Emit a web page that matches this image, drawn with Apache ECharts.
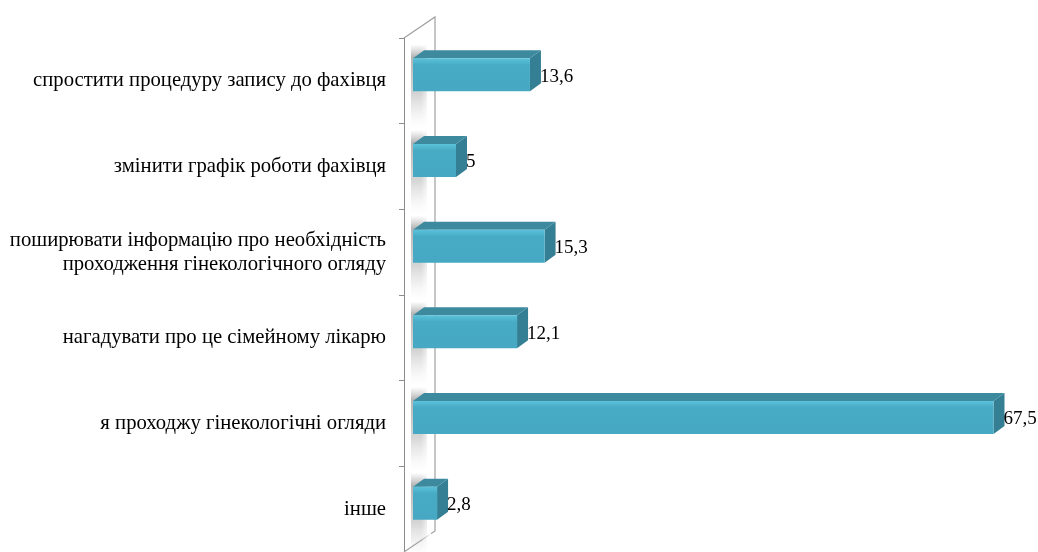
<!DOCTYPE html>
<html>
<head>
<meta charset="utf-8">
<script src="https://cdn.jsdelivr.net/npm/echarts@6/dist/echarts.min.js"></script>
<style>
  html, body { margin: 0; padding: 0; background: #ffffff; }
  #chart { width: 1038px; height: 552px; }
</style>
</head>
<body>
<div id="chart"></div>
<script>
// Survey answers (top to bottom) and their shares, %
const categories = [
  'спростити процедуру запису до фахівця',
  'змінити графік роботи фахівця',
  'поширювати інформацію про необхідність\nпроходження гінекологічного огляду',
  'нагадувати про це сімейному лікарю',
  'я проходжу гінекологічні огляди',
  'інше'
];
const values = [13.6, 5, 15.3, 12.1, 67.5, 2.8];
const valueLabels = ['13,6', '5', '15,3', '12,1', '67,5', '2,8'];

const FONT = '"Liberation Serif", "Times New Roman", serif';
const FLOOR = 9;                    // bars stand this far in front of the side wall
const DEPTH_X = 11, DEPTH_Y = -8;   // oblique depth of each bar
const FACE_H = 33;                  // front face height
const FACE_SHIFT = -6;              // front face centre relative to band centre

const chart = echarts.init(document.getElementById('chart'), null, { renderer: 'canvas' });

function renderBar(params, api) {
  const idx = api.value(0);
  const val = api.value(1);
  const start = api.coord([0, idx]);
  const end = api.coord([val, idx]);
  const x0 = start[0] + FLOOR, x1 = end[0] + FLOOR;
  const cy = start[1] + FACE_SHIFT;
  const top = cy - FACE_H / 2, bot = cy + FACE_H / 2;
  return {
    type: 'group',
    children: [
      // soft shadow cast on the side wall
      {
        type: 'rect',
        shape: { x: x0 - 2, y: top - 14, width: 16, height: FACE_H + 50 },
        style: {
          fill: new echarts.graphic.LinearGradient(0, 0, 0, 1, [
            { offset: 0, color: 'rgba(140,140,140,0)' },
            { offset: 0.15, color: 'rgba(120,120,120,0.55)' },
            { offset: 0.6, color: 'rgba(150,150,150,0.4)' },
            { offset: 1, color: 'rgba(200,200,200,0)' }
          ])
        },
        silent: true
      },
      {
        type: 'rect',
        shape: { x: x0 + 8, y: top - 14, width: 10, height: FACE_H + 50 },
        style: {
          fill: new echarts.graphic.LinearGradient(0, 0, 1, 0, [
            { offset: 0, color: 'rgba(255,255,255,0)' },
            { offset: 1, color: 'rgba(255,255,255,1)' }
          ])
        },
        silent: true
      },
      // right side face
      {
        type: 'polygon',
        shape: { points: [[x1, top], [x1 + DEPTH_X, top + DEPTH_Y], [x1 + DEPTH_X, bot + DEPTH_Y], [x1, bot]] },
        style: { fill: '#347f93' }
      },
      // top face
      {
        type: 'polygon',
        shape: { points: [[x0, top], [x0 + DEPTH_X, top + DEPTH_Y], [x1 + DEPTH_X, top + DEPTH_Y], [x1, top]] },
        style: { fill: '#3d8a9f' }
      },
      // front face
      {
        type: 'rect',
        shape: { x: x0, y: top, width: x1 - x0, height: FACE_H },
        style: {
          fill: new echarts.graphic.LinearGradient(0, 0, 0, 1, [
            { offset: 0, color: '#5cc2da' },
            { offset: 0.12, color: '#4fb4cd' },
            { offset: 0.2, color: '#48abc5' },
            { offset: 1, color: '#46a8c2' }
          ]),
          shadowBlur: 6, shadowOffsetY: 3, shadowColor: 'rgba(0,0,0,0.3)'
        }
      },
      // value label
      {
        type: 'text',
        z2: 10,
        style: {
          text: valueLabels[params.dataIndex],
          x: x1 + DEPTH_X - 1, y: cy + 2,
          align: 'left', verticalAlign: 'middle',
          font: '19px ' + FONT, fill: '#000000'
        }
      }
    ]
  };
}

const option = {
  animation: false,
  grid: { left: 404, right: 32, top: 38, bottom: -2, containLabel: false },
  xAxis: {
    type: 'value', min: 0, max: 70,
    show: false
  },
  yAxis: {
    type: 'category',
    inverse: true,
    data: categories,
    axisLine: { show: true, lineStyle: { color: '#8c8c8c', width: 1 } },
    axisTick: { show: true, length: 5, lineStyle: { color: '#8c8c8c' } },
    axisLabel: {
      margin: 18,
      fontFamily: FONT, fontSize: 20.7, color: '#000000',
      lineHeight: 24, align: 'right'
    }
  },
  series: [{
    type: 'custom',
    renderItem: renderBar,
    encode: { x: 1, y: 0 },
    data: values.map((v, i) => [i, v]),
    clip: false,
    z: 3
  }]
};
chart.setOption(option);

// Side wall of the plot box, derived from the axis positions
const xFront = chart.convertToPixel({ xAxisIndex: 0 }, 0);
const yFirst = chart.convertToPixel({ yAxisIndex: 0 }, 0);
const yLast = chart.convertToPixel({ yAxisIndex: 0 }, categories.length - 1);
const band = (yLast - yFirst) / (categories.length - 1);
const yTop = yFirst - band / 2, yBot = yLast + band / 2;
const WX = 31, WY = -21;
chart.setOption({
  graphic: [{
    type: 'polyline',
    z: 1,
    silent: true,
    shape: { points: [[xFront, yTop], [xFront + WX, yTop + WY], [xFront + WX, yBot + WY], [xFront, yBot]] },
    style: { stroke: '#a0a0a0', lineWidth: 1.2, fill: null }
  }]
});
</script>
</body>
</html>
